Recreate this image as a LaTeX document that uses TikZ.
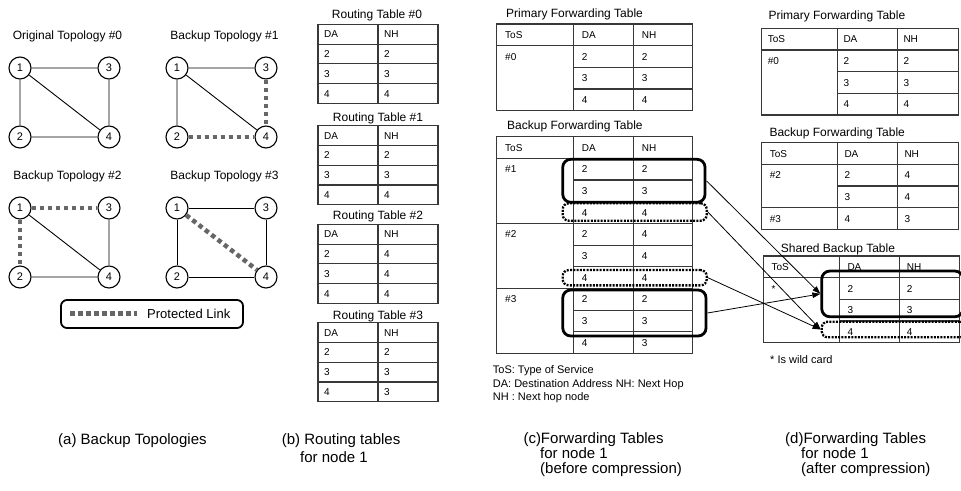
\documentclass[tikz,border=0pt]{standalone}
\usepackage{fontspec}
\setmainfont{Liberation Sans}
\usetikzlibrary{arrows.meta}

\tikzset{
  vtx/.style={circle, draw, line width=1.1pt, minimum size=22pt, inner sep=0pt, font=\fontsize{11}{11}\selectfont},
  link/.style={line width=0.9pt},
  prot/.style={line width=4.5pt, draw=black!60, dash pattern=on 4.5pt off 3.5pt},
  grid/.style={line width=1.1pt, draw=black!78},
  cell/.style={anchor=west, inner sep=0pt, text height=7.2pt, text depth=0pt, font=\fontsize{10}{10}\selectfont},
  title/.style={inner sep=0pt, text height=8.6pt, text depth=0pt, font=\fontsize{12}{12}\selectfont},
  note/.style={anchor=west, inner sep=0pt, text height=7.9pt, text depth=0pt, font=\fontsize{11}{11}\selectfont},
  caption/.style={anchor=west, inner sep=0pt, text height=10.7pt, text depth=0pt, font=\fontsize{15}{15}\selectfont},
  solidbox/.style={draw, line width=2.8pt, rounded corners=8pt, inner sep=0pt},
  dotbox/.style={draw, line width=2.3pt, dash pattern=on 2pt off 1.3pt, rounded corners=6pt, inner sep=0pt},
  feed/.style={line width=0.8pt, -{Triangle[length=8pt,width=5.5pt]}},
}

% four-node topology: prefix, position of node 1, heading
\newcommand{\topograph}[4]{%
  \node[title] (#1-t) at (#2+47.5,#3-33) {#4};
  \node[vtx] (#1-1) at (#2,#3) {1};
  \node[vtx] (#1-3) at (#2+89,#3) {3};
  \node[vtx] (#1-2) at (#2,#3+69) {2};
  \node[vtx] (#1-4) at (#2+89,#3+69) {4};
}
% two text cells of one row: name, x of DA, x of NH, y, texts
\newcommand{\drow}[6]{%
  \node[cell] (#1-a) at (#2,#4) {#5};
  \node[cell] (#1-b) at (#3,#4) {#6};
}
% three text cells of one row
\newcommand{\trow}[8]{%
  \node[cell] (#1-s) at (#2,#5) {#6};
  \drow{#1}{#3}{#4}{#5}{#7}{#8}
}
% routing table: name, top, next hops for destinations 2, 3, 4
\newcommand{\rtab}[5]{%
  \draw[grid] (318,#2) rectangle (438,#2+79);
  \draw[grid] (378,#2) -- (378,#2+79);
  \foreach \k in {1,2,3} \draw[grid] (318,#2+\k*19.75) -- (438,#2+\k*19.75);
  \drow{#1-h}{324}{384}{#2+9.9}{DA}{NH}
  \drow{#1-r2}{324}{384}{#2+29.6}{2}{#3}
  \drow{#1-r3}{324}{384}{#2+49.4}{3}{#4}
  \drow{#1-r4}{324}{384}{#2+69.1}{4}{#5}
}
\def\rowh{21.67}
% forwarding table grid: column edges x0..x3, top, number of body rows
\newcommand{\ftab}[6]{%
  \draw[grid] (#1,#5) rectangle (#4,#5+#6*\rowh+\rowh);
  \draw[grid] (#2,#5) -- (#2,#5+#6*\rowh+\rowh) (#3,#5) -- (#3,#5+#6*\rowh+\rowh);
  \draw[grid] (#1,#5+\rowh) -- (#4,#5+\rowh);
  \foreach \k in {2,...,#6} \draw[grid] (#2,#5+\k*\rowh) -- (#4,#5+\k*\rowh);
}

\begin{document}
\begin{tikzpicture}[x=1pt,y=-1pt]
\useasboundingbox (0,0) rectangle (961,490);
\clip (0,0) rectangle (961,490);

% ---------- (a) topologies ----------
\topograph{ta}{20}{68}{Original Topology \#0}
\draw[link] (ta-1)--(ta-3) (ta-1)--(ta-2) (ta-1)--(ta-4) (ta-3)--(ta-4) (ta-2)--(ta-4);

\topograph{tb}{177}{68}{Backup Topology \#1}
\draw[link] (tb-1)--(tb-3) (tb-1)--(tb-2) (tb-1)--(tb-4);
\draw[prot] (tb-3)--(tb-4) (tb-2)--(tb-4);

\topograph{tc}{20}{208}{Backup Topology \#2}
\draw[link] (tc-1)--(tc-4) (tc-3)--(tc-4) (tc-2)--(tc-4);
\draw[prot] (tc-1)--(tc-3) (tc-1)--(tc-2);

\topograph{td}{177}{208}{Backup Topology \#3}
\draw[link] (td-1)--(td-3) (td-1)--(td-2) (td-3)--(td-4) (td-2)--(td-4);
\draw[prot] (td-1)--(td-4);

% legend
\node[draw, line width=1.8pt, rounded corners=6pt, minimum width=182pt, minimum height=28pt] (leg) at (152,314) {};
\coordinate (lg-a) at (70,313.3);
\coordinate (lg-b) at (137,313.3);
\draw[prot] (lg-a) -- (lg-b);
\node[anchor=west, inner sep=0pt, text height=9.3pt, text depth=0pt, font=\fontsize{13}{13}\selectfont] (leg-t) at (147,313.5) {Protected Link};

% ---------- (b) routing tables ----------
\node[title] (rt0-t) at (377,14) {Routing Table \#0};
\rtab{rt0}{24.3}{2}{3}{4}
\node[title] (rt1-t) at (378,117) {Routing Table \#1};
\rtab{rt1}{125.7}{2}{3}{4}
\node[title] (rt2-t) at (378,215) {Routing Table \#2};
\rtab{rt2}{224.3}{4}{4}{4}
\node[title] (rt3-t) at (378,315) {Routing Table \#3};
\rtab{rt3}{322.7}{2}{3}{3}

% ---------- (c) before compression ----------
\node[title, anchor=west] (cp-t) at (506,13) {Primary Forwarding Table};
\ftab{496.7}{573.3}{633.3}{692.7}{24}{3}
\trow{cp-h}{505}{581.7}{641.7}{24+0.5*\rowh}{ToS}{DA}{NH}
\trow{cp-1}{505}{581.7}{641.7}{24+1.5*\rowh}{\#0}{2}{2}
\drow{cp-2}{581.7}{641.7}{24+2.5*\rowh}{3}{3}
\drow{cp-3}{581.7}{641.7}{24+3.5*\rowh}{4}{4}

\node[title, anchor=west] (cb-t) at (507,125) {Backup Forwarding Table};
\ftab{496.7}{573.3}{633.3}{692.7}{136.7}{9}
\draw[grid] (496.7,136.7+4*\rowh) -- (573.3,136.7+4*\rowh);
\draw[grid] (496.7,136.7+7*\rowh) -- (573.3,136.7+7*\rowh);
\trow{cb-h}{505}{581.7}{641.7}{136.7+0.5*\rowh}{ToS}{DA}{NH}
\trow{cb-1}{505}{581.7}{641.7}{136.7+1.5*\rowh}{\#1}{2}{2}
\drow{cb-2}{581.7}{641.7}{136.7+2.5*\rowh}{3}{3}
\drow{cb-3}{581.7}{641.7}{136.7+3.5*\rowh}{4}{4}
\trow{cb-4}{505}{581.7}{641.7}{136.7+4.5*\rowh}{\#2}{2}{4}
\drow{cb-5}{581.7}{641.7}{136.7+5.5*\rowh}{3}{4}
\drow{cb-6}{581.7}{641.7}{136.7+6.5*\rowh}{4}{4}
\trow{cb-7}{505}{581.7}{641.7}{136.7+7.5*\rowh}{\#3}{2}{2}
\drow{cb-8}{581.7}{641.7}{136.7+8.5*\rowh}{3}{3}
\drow{cb-9}{581.7}{641.7}{136.7+9.5*\rowh}{4}{3}

\node[note] (n1) at (492.7,370) {ToS: Type of Service};
\node[note] (n2) at (492.7,383.3) {DA: Destination Address NH: Next Hop};
\node[note] (n3) at (492.7,396.7) {NH : Next hop node};

% ---------- (d) after compression ----------
\node[title, anchor=west] (dp-t) at (768.3,15) {Primary Forwarding Table};
\ftab{761.7}{837.3}{897.3}{958.3}{28.3}{3}
\trow{dp-h}{767.7}{843.3}{903.3}{28.3+0.5*\rowh}{ToS}{DA}{NH}
\trow{dp-1}{767.7}{843.3}{903.3}{28.3+1.5*\rowh}{\#0}{2}{2}
\drow{dp-2}{843.3}{903.3}{28.3+2.5*\rowh}{3}{3}
\drow{dp-3}{843.3}{903.3}{28.3+3.5*\rowh}{4}{4}

\node[title, anchor=west] (db-t) at (769.3,131.7) {Backup Forwarding Table};
\ftab{761.7}{837.3}{897.3}{958.3}{142.7}{3}
\draw[grid] (761.7,142.7+3*\rowh) -- (837.3,142.7+3*\rowh);
\trow{db-h}{769.7}{844.3}{904.3}{142.7+0.5*\rowh}{ToS}{DA}{NH}
\trow{db-1}{769.7}{844.3}{904.3}{142.7+1.5*\rowh}{\#2}{2}{4}
\drow{db-2}{844.3}{904.3}{142.7+2.5*\rowh}{3}{4}
\trow{db-3}{769.7}{844.3}{904.3}{142.7+3.5*\rowh}{\#3}{4}{3}

\node[title, anchor=west] (ds-t) at (780.7,248.3) {Shared Backup Table};
\ftab{763.3}{839.3}{899.3}{959.3}{256}{3}
\trow{ds-h}{771.3}{847.3}{906.7}{256+0.5*\rowh}{ToS}{DA}{NH}
\trow{ds-1}{771.3}{847.3}{906.7}{256+1.5*\rowh}{*}{2}{2}
\drow{ds-2}{847.3}{906.7}{256+2.5*\rowh}{3}{3}
\drow{ds-3}{847.3}{906.7}{256+3.5*\rowh}{4}{4}

\node[note] (n4) at (770,359.3) {* Is wild card};

% ---------- groups of entries and where they go ----------
\node[solidbox, minimum width=142.3pt, minimum height=43pt] (g1) at (633.9,180.8) {};
\node[dotbox, minimum width=144pt, minimum height=17.4pt] (g1x) at (634.7,212) {};
\node[dotbox, minimum width=144pt, minimum height=15.3pt] (g2x) at (634.7,277.7) {};
\node[solidbox, minimum width=143.3pt, minimum height=46pt] (g3) at (634.4,313) {};
\node[solidbox, minimum width=141.3pt, minimum height=45.7pt] (s1) at (892.4,293.9) {};
\node[dotbox, minimum width=144.3pt, minimum height=15.6pt] (s2) at (893.9,329.5) {};

\draw[feed] (g1.east) -- (s1.west);
\draw[feed] (g3.east) -- (s1.west);
\draw[feed] (g1x.east) -- (s2.west);
\draw[feed] (g2x.east) -- (s2.west);

% ---------- captions ----------
\node[caption] (cap-a) at (58,439.3) {(a) Backup Topologies};
\node[caption] (cap-b1) at (281.7,439.3) {(b) Routing tables};
\node[caption] (cap-b2) at (300,456.7) {for node 1};
\node[caption] (cap-c1) at (523.3,438.3) {(c)Forwarding Tables};
\node[caption] (cap-c2) at (540,453.3) {for node 1};
\node[caption] (cap-c3) at (540,468.3) {(before compression)};
\node[caption] (cap-d1) at (785,438.3) {(d)Forwarding Tables};
\node[caption] (cap-d2) at (801,453.3) {for node 1};
\node[caption] (cap-d3) at (801,468.3) {(after compression)};
\end{tikzpicture}
\end{document}
